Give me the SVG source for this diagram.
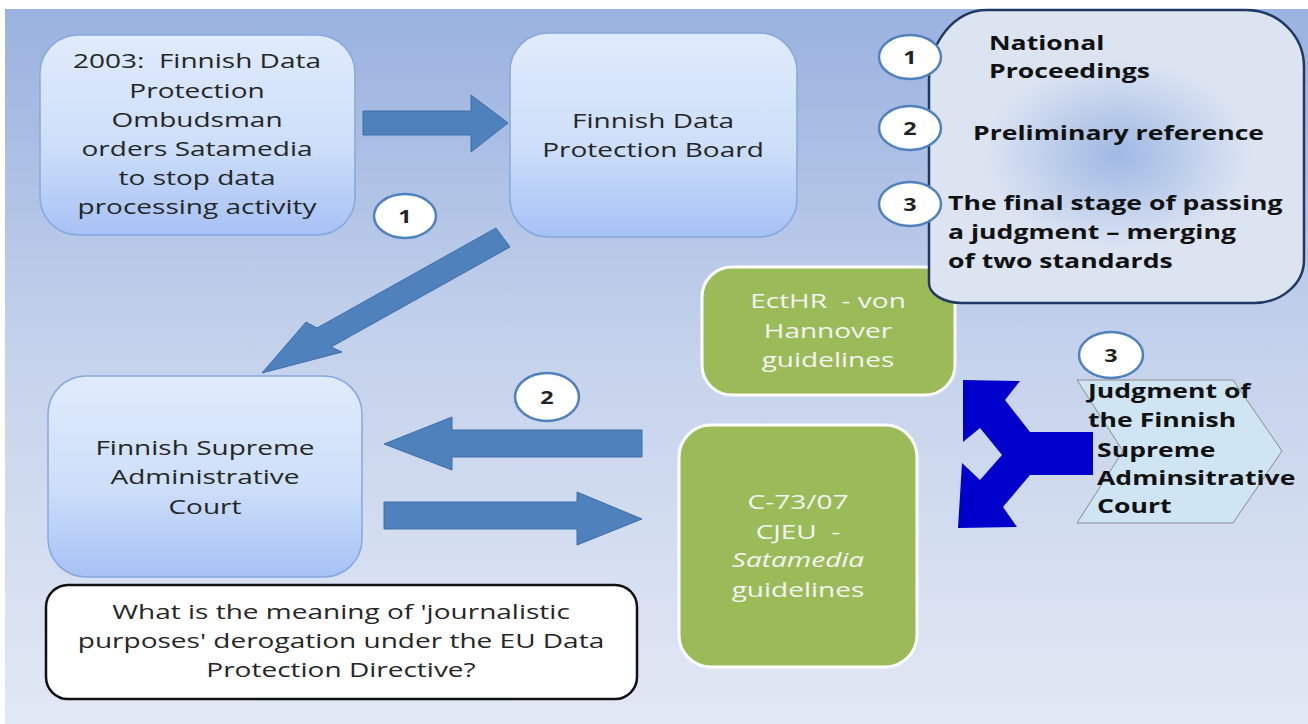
<svg xmlns="http://www.w3.org/2000/svg" width="1308" height="724" viewBox="0 0 1308 724">
<defs>
<linearGradient id="bg" x1="0" y1="0" x2="0" y2="1">
<stop offset="0" stop-color="#9ab2df"/>
<stop offset="0.5" stop-color="#c6d3ec"/>
<stop offset="1" stop-color="#e2e8f4"/>
</linearGradient>
<linearGradient id="boxg" x1="0" y1="0" x2="0" y2="1">
<stop offset="0" stop-color="#e0ebfc"/>
<stop offset="0.55" stop-color="#cddff9"/>
<stop offset="1" stop-color="#a6c1f5"/>
</linearGradient>
<radialGradient id="pang" gradientUnits="userSpaceOnUse" cx="1118" cy="155" r="95" gradientTransform="translate(1118 155) scale(1.4 1) translate(-1118 -155)">
<stop offset="0" stop-color="#9fb8e4"/>
<stop offset="1" stop-color="#dce4f2"/>
</radialGradient>
<style>
.box{fill:url(#boxg);stroke:#86a8dc;stroke-width:1.5}
.green{fill:#9bbb59;stroke:#ffffff;stroke-width:3}
.arr{fill:#4f81bd;stroke:#3e6ea8;stroke-width:1}
.circ{fill:#ffffff;stroke:#4f81bd;stroke-width:2.5}
.t{font-family:"Open Sans","Liberation Sans",sans-serif;font-size:20px;fill:#262626;text-anchor:middle;white-space:pre}
.w{fill:#f4f4f4}
.b{font-family:"Open Sans","Liberation Sans",sans-serif;font-size:19px;font-weight:bold;fill:#111111;white-space:pre}
.n{font-family:"Open Sans","Liberation Sans",sans-serif;font-size:18px;font-weight:bold;fill:#222222;text-anchor:middle}
</style>
</defs>
<rect x="0" y="0" width="1308" height="724" fill="#ffffff"/>
<rect x="5" y="9" width="1303" height="715" fill="url(#bg)"/>

<g id="connectors">
<polygon class="arr" points="363,111 471,111 471,95 508,123 471,152 471,135 363,135"/>
<polygon class="arr" points="496,228 317,328 306,322 262,373 342,352 331,347 510,247"/>
<polygon class="arr" points="642,430 452,430 452,417 384,444 452,470 452,457 642,457"/>
<polygon class="arr" points="384,502 577,502 577,492 642,519 577,545 577,529 384,529"/>
<polygon fill="#0000cc" points="963,380 1020,381 1005,400 1030,432 1093,432 1093,475 1030,475 1003,507 1017,527 958,528 962,463 980,480 1002,455 980,428 963,442"/>
</g>

<g id="node-ombudsman">
<rect class="box" x="40" y="35" width="315" height="200" rx="38"/>
<text class="t" transform="matrix(1.4 0 0 1 197 0)"><tspan x="0" y="68">2003:  Finnish Data</tspan><tspan x="0" y="98">Protection</tspan><tspan x="0" y="127">Ombudsman</tspan><tspan x="0" y="156">orders Satamedia</tspan><tspan x="0" y="185">to stop data</tspan><tspan x="0" y="214">processing activity</tspan></text>
</g>

<g id="node-board">
<rect class="box" x="510" y="33" width="287" height="204" rx="38"/>
<text class="t" transform="matrix(1.4 0 0 1 653 0)"><tspan x="0" y="128">Finnish Data</tspan><tspan x="0" y="157">Protection Board</tspan></text>
</g>

<g id="badge-1">
<ellipse class="circ" cx="405" cy="216" rx="31" ry="22"/>
<text class="n" transform="matrix(1.3 0 0 1 405 0)" x="0" y="223">1</text>
</g>

<g id="node-court">
<rect class="box" x="48" y="376" width="314" height="201" rx="38"/>
<text class="t" transform="matrix(1.4 0 0 1 205 0)"><tspan x="0" y="455">Finnish Supreme</tspan><tspan x="0" y="484">Administrative</tspan><tspan x="0" y="514">Court</tspan></text>
</g>

<g id="badge-2">
<ellipse class="circ" cx="547" cy="397" rx="32" ry="24"/>
<text class="n" transform="matrix(1.3 0 0 1 547 0)" x="0" y="404">2</text>
</g>

<g id="node-question">
<rect x="46" y="585" width="591" height="114" rx="22" fill="#ffffff" stroke="#111111" stroke-width="2.5"/>
<text class="t" transform="matrix(1.4 0 0 1 341 0)"><tspan x="0" y="619">What is the meaning of 'journalistic</tspan><tspan x="0" y="648">purposes' derogation under the EU Data</tspan><tspan x="0" y="677">Protection Directive?</tspan></text>
</g>

<g id="node-ecthr">
<rect class="green" x="702" y="267" width="253" height="128" rx="30"/>
<text class="t w" transform="matrix(1.4 0 0 1 828 0)"><tspan x="0" y="308">EctHR  - von</tspan><tspan x="0" y="338">Hannover</tspan><tspan x="0" y="367">guidelines</tspan></text>
</g>

<g id="node-cjeu">
<rect class="green" x="679" y="425" width="238" height="242" rx="32"/>
<text class="t w" transform="matrix(1.4 0 0 1 798 0)"><tspan x="0" y="509">C-73/07</tspan><tspan x="0" y="539">CJEU  -</tspan><tspan x="0" y="567" font-style="italic">Satamedia</tspan><tspan x="0" y="597">guidelines</tspan></text>
</g>

<g id="node-legend">
<path d="M 987 10 H 1246 A 58 57 0 0 1 1304 67 V 260 A 50 43 0 0 1 1254 303 H 962 A 33 20 0 0 1 929 283 V 80 A 58 70 0 0 1 987 10 Z" fill="url(#pang)" stroke="#203864" stroke-width="2.5"/>
<ellipse class="circ" cx="910" cy="57" rx="31" ry="22"/>
<text class="n" transform="matrix(1.3 0 0 1 910 0)" x="0" y="64">1</text>
<ellipse class="circ" cx="910" cy="128" rx="31" ry="22"/>
<text class="n" transform="matrix(1.3 0 0 1 910 0)" x="0" y="135">2</text>
<ellipse class="circ" cx="910" cy="204" rx="31" ry="22"/>
<text class="n" transform="matrix(1.3 0 0 1 910 0)" x="0" y="211">3</text>
<text class="b" transform="matrix(1.4 0 0 1 989 0)"><tspan x="0" y="50">National</tspan><tspan x="0" y="78">Proceedings</tspan></text>
<text class="b" transform="matrix(1.4 0 0 1 973 0)" x="0" y="140">Preliminary reference</text>
<text class="b" transform="matrix(1.4 0 0 1 948 0)"><tspan x="0" y="210">The final stage of passing</tspan><tspan x="0" y="239">a judgment – merging</tspan><tspan x="0" y="268">of two standards</tspan></text>
</g>

<g id="badge-3">
<ellipse class="circ" cx="1111" cy="355" rx="32" ry="23"/>
<text class="n" transform="matrix(1.3 0 0 1 1111 0)" x="0" y="362">3</text>
</g>

<g id="node-judgment">
<polygon points="1077,380 1233,380 1282,451 1233,523 1077,523 1123,451" fill="#cfe5f4" stroke="#8a8a8a" stroke-width="1"/>
<text class="b" transform="matrix(1.4 0 0 1 1088 0)"><tspan x="0" y="398">Judgment of</tspan><tspan x="0" y="427">the Finnish</tspan></text>
<text class="b" transform="matrix(1.4 0 0 1 1097 0)"><tspan x="0" y="457">Supreme</tspan><tspan x="0" y="485">Adminsitrative</tspan><tspan x="0" y="513">Court</tspan></text>
</g>
</svg>
